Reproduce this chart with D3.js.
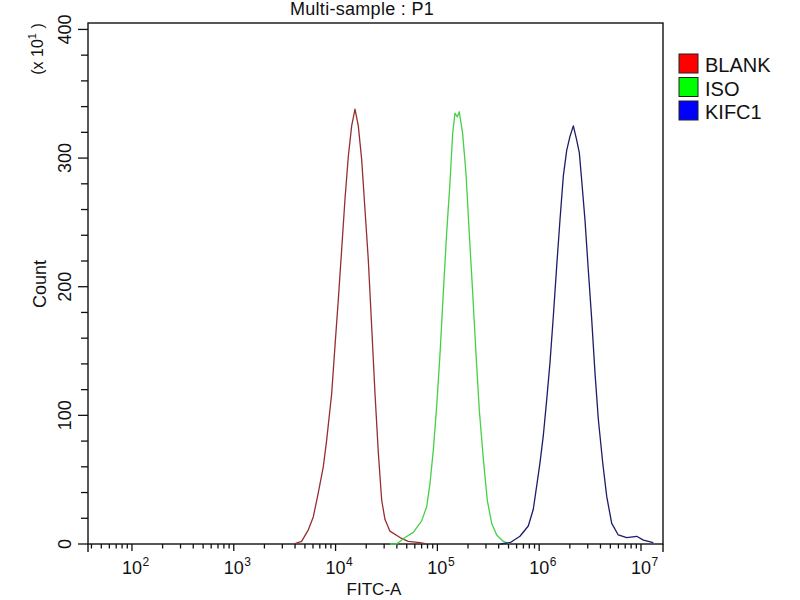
<!DOCTYPE html>
<html>
<meta charset="utf-8">
<head>
  <script src='https://d3js.org/d3.v7.min.js'></script>
  <style>
    body { margin:0; background:#fff; }
    text { font-family: "Liberation Sans", Arial, sans-serif; fill:#111; }
  </style>
</head>
<body>
<script>
    // values: FITC-A (linear units) and count (x10)
    var blankFitc = [3850, 4640, 5400, 6040, 6770, 7570, 8180, 9160, 9870, 10640, 11480, 12370, 13330, 14390, 15520, 16720, 18040, 19450, 20960, 22630, 24390, 26300, 28380, 30580, 34220, 42920, 51800, 67450, 78500]
    var blankCount = [0, 2, 11, 21, 40, 60, 81, 117, 154, 190, 229, 268, 301, 325, 338, 325, 299, 260, 221, 169, 117, 71, 34, 19, 10, 5, 2, 1, 0]

    var isoFitc = [34200, 39800, 48100, 58000, 70100, 78500, 84600, 91200, 98400, 106200, 114300, 123400, 133000, 141300, 148900, 157000, 164100, 177100, 191000, 205600, 222300, 239400, 258200, 282800, 309300, 341500, 382600, 443900, 516400]
    var isoCount = [0, 0, 5, 9, 18, 29, 47, 73, 107, 148, 195, 242, 281, 319, 335, 332, 336, 319, 288, 242, 195, 148, 104, 66, 34, 16, 7, 2, 0]

    var kifcFitc = [412100, 516400, 647300, 781600, 875000, 944300, 1018000, 1097000, 1185000, 1277000, 1377000, 1486000, 1601000, 1726000, 1863000, 2009000, 2165000, 2336000, 2479000, 2614000, 2817000, 3037000, 3278000, 3533000, 3810000, 4210000, 4606000, 5157000, 5985000, 7241000, 9077000, 10550000, 13220000]
    var kifcCount = [0, 1, 6, 14, 27, 45, 63, 84, 112, 141, 177, 216, 252, 286, 306, 317, 325, 314, 304, 283, 252, 213, 175, 133, 97, 63, 37, 16, 7, 5, 6, 3, 1]

    var sampleNames = ['BLANK', 'ISO', 'KIFC1']
    var lineColors = ['#952f2f', '#45d045', '#1c1c6a']
    var keyColors = ['#ff0000', '#00ff00', '#0000ff']
    var yMajor = [0, 100, 200, 300, 400]
    var xPowers = [2, 3, 4, 5, 6, 7]

    const W = 800, H = 600
    const pLeft = 88, pRight = 663, pTop = 23, pBottom = 544

    var svg = d3.select('body').append('svg').attr('width', W).attr('height', H)

    var x = d3.scaleLog().domain([37, 1.645e7]).range([pLeft, pRight])
    var y = d3.scaleLinear().domain([0, 405]).range([pBottom, pTop])

    // frame
    svg.append('rect')
	.attr('x', pLeft).attr('y', pTop)
	.attr('width', pRight-pLeft).attr('height', pBottom-pTop)
	.attr('fill', 'none').attr('stroke', '#111').attr('stroke-width', 1.4)

    // corner stubs below the x axis
    svg.selectAll('line.stub').data([pLeft, pRight]).join('line')
	.attr('class', 'stub')
	.attr('x1', d=>d).attr('x2', d=>d)
	.attr('y1', pBottom).attr('y2', pBottom+8)
	.attr('stroke', '#111').attr('stroke-width', 1.4)

    // y axis: majors every 100, minors every 20
    var yMinor = d3.range(0, 401, 20)
    var yAxis = svg.append('g').attr('transform', `translate(${pLeft},0)`)
    yAxis.selectAll('line').data(yMinor).join('line')
	.attr('x1', d => (d % 100 == 0) ? -10 : -7).attr('x2', 0)
	.attr('y1', d=>y(d)).attr('y2', d=>y(d))
	.attr('stroke', '#111').attr('stroke-width', 1.3)
    yAxis.selectAll('text').data(yMajor).join('text')
	.attr('transform', d => `translate(-17,${y(d)}) rotate(-90)`)
	.attr('text-anchor', 'middle')
	.style('font-size', '18px')
	.text(d=>d)

    // x axis: log ticks
    var xMinor = []
    for (let p=1; p<=7; p++) {
	for (let m=1; m<10; m++) {
	    const v = m*Math.pow(10,p)
	    if (v >= x.domain()[0] && v <= x.domain()[1]) xMinor.push({v:v, major:m==1})
	}
    }
    var xAxis = svg.append('g').attr('transform', `translate(0,${pBottom})`)
    xAxis.selectAll('line').data(xMinor).join('line')
	.attr('x1', d=>x(d.v)).attr('x2', d=>x(d.v))
	.attr('y1', 0).attr('y2', d => d.major ? 7 : 4.5)
	.attr('stroke', '#111').attr('stroke-width', 1.3)
    var xl = xAxis.selectAll('g.lab').data(xPowers).join('g')
	.attr('class', 'lab')
	.attr('transform', d => `translate(${x(Math.pow(10,d))},0)`)
    xl.append('text').attr('x', 0).attr('y', 29.5)
	.attr('text-anchor', 'middle').style('font-size', '18px').text('10')
    xl.append('text').attr('x', 10.5).attr('y', 22)
	.style('font-size', '12px').text(d=>d)

    // histograms
    var series = [
	{fitc: blankFitc, count: blankCount},
	{fitc: isoFitc, count: isoCount},
	{fitc: kifcFitc, count: kifcCount}
    ]
    var line = d3.line().x(d=>x(d[0])).y(d=>y(d[1]))
    svg.append('g').selectAll('path').data(series).join('path')
	.attr('d', s => line(d3.zip(s.fitc, s.count)))
	.attr('fill', 'none')
	.attr('stroke', (s,i) => lineColors[i])
	.attr('stroke-width', 1.3)
	.attr('stroke-linejoin', 'round')

    // titles
    svg.append('text').attr('x', 362).attr('y', 14.5)
	.attr('text-anchor', 'middle').style('font-size', '18px')
	.style('letter-spacing', '0.3px')
	.text('Multi-sample : P1')
    svg.append('text').attr('x', 374).attr('y', 595)
	.attr('text-anchor', 'middle').style('font-size', '17px')
	.text('FITC-A')
    svg.append('text').attr('transform', 'translate(46,284) rotate(-90)')
	.attr('text-anchor', 'middle').style('font-size', '18px')
	.text('Count')
    var mult = svg.append('text').attr('transform', 'translate(43,49) rotate(-90)')
	.attr('text-anchor', 'middle').style('font-size', '16px')
    mult.append('tspan').text('(x 10')
    mult.append('tspan').attr('dy', -7).style('font-size', '11px').text('1')
    mult.append('tspan').attr('dy', 7).text(' )')

    // legend
    var key = svg.append('g').attr('transform', 'translate(679,54)')
    var rows = key.selectAll('g').data(sampleNames).join('g')
	.attr('transform', (d,i) => `translate(0,${i*23.5})`)
    rows.append('rect').attr('width', 19).attr('height', 19)
	.attr('fill', (d,i) => keyColors[i])
	.attr('stroke', '#222').attr('stroke-width', 1)
    rows.append('text').attr('x', 26).attr('y', 18)
	.style('font-size', '20px').text(d=>d)
</script>
</body>
</html>
